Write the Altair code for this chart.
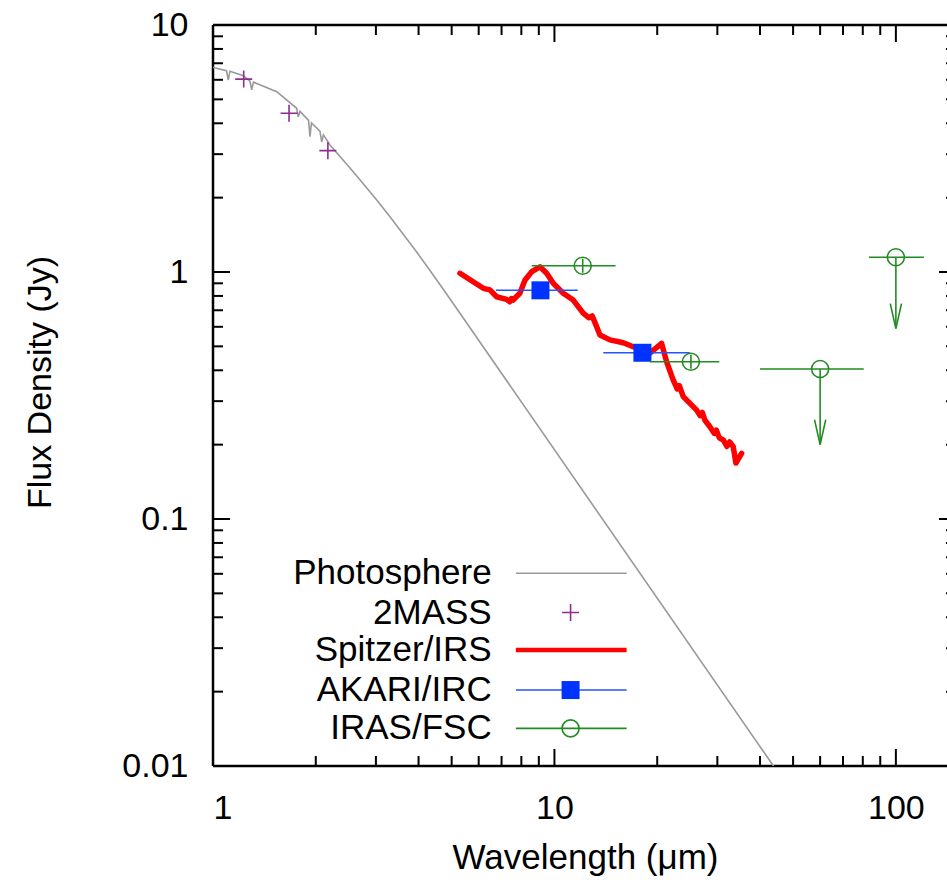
import altair as alt
import pandas as pd

# ---------------------------------------------------------------- data
# Photospheric model (wavelength in micron, flux density in Jy)
phot_wl = [1.0, 1.095, 1.109, 1.121, 1.227, 1.283, 1.298, 1.314, 1.537, 1.758,
           1.777, 1.798, 1.905, 1.923, 1.943, 2.057, 2.081, 2.106, 2.201, 2.519,
           2.755, 3.016, 3.299, 3.607, 3.950, 4.320, 4.725, 5.172, 43.25, 48.9]
phot_flux = [6.73, 6.53, 5.99, 6.50, 6.23, 5.92, 5.46, 5.87, 5.37, 4.60,
             4.25, 4.47, 4.11, 3.53, 4.01, 3.72, 3.36, 3.59, 3.27, 2.636,
             2.278, 1.956, 1.673, 1.423, 1.204, 1.014, 0.851, 0.7115, 0.01026, 0.00802]

# 2MASS J, H, Ks photometry
tmass_wl = [1.23, 1.67, 2.17]
tmass_flux = [6.04, 4.39, 3.10]

# Spitzer/IRS spectrum
irs_wl = [5.29, 5.78, 6.19, 6.47, 6.77, 7.24, 7.40, 7.48, 7.57, 7.92,
          8.20, 8.58, 9.07, 9.49, 9.92, 10.61, 11.35, 12.14, 12.6, 12.9,
          13.29, 13.59, 14.54, 15.91, 17.01, 19.04, 20.60, 21.31, 22.28, 22.9,
          23.2, 23.84, 26.09, 26.7, 27.1, 27.6, 28.53, 29.4, 29.8, 30.4,
          31.22, 32.0, 32.6, 33.39, 34.0, 35.34]
irs_flux = [0.988, 0.913, 0.859, 0.846, 0.794, 0.775, 0.758, 0.781, 0.770, 0.820,
            0.928, 1.003, 1.05, 0.988, 0.900, 0.820, 0.770, 0.681, 0.653, 0.664,
            0.601, 0.556, 0.531, 0.517, 0.498, 0.469, 0.514, 0.433, 0.365, 0.336,
            0.347, 0.313, 0.276, 0.262, 0.270, 0.251, 0.2364, 0.222, 0.229, 0.213,
            0.2089, 0.197, 0.205, 0.1963, 0.1685, 0.1845]

# AKARI/IRC S9W and L18W
akari_wl = [9.1, 18.1]
akari_flux = [0.843, 0.471]
akari_band_lo = [6.74, 13.9]
akari_band_hi = [11.7, 24.9]

# IRAS/FSC 12, 25, 60, 100 micron
iras_wl = [12.1, 25.1, 60.0, 100.0]
iras_flux = [1.06, 0.433, 0.405, 1.147]
iras_band_lo = [8.58, 19.0, 40.0, 83.4]
iras_band_hi = [15.1, 30.4, 80.5, 120.8]
iras_upper_limit = [False, False, True, True]
iras_err_lo = [0.993, 0.406, None, None]
iras_err_hi = [1.131, 0.462, None, None]
iras_arrow_tip = [None, None, 0.20, 0.59]

legend_labels = ["Photosphere", "2MASS", "Spitzer/IRS", "AKARI/IRC", "IRAS/FSC"]

# axis ticks
x_major = [1, 10, 100]
x_minor = [2, 3, 4, 5, 6, 7, 8, 9, 20, 30, 40, 50, 60, 70, 80, 90]
y_major = [0.01, 0.1, 1, 10]
y_minor = [0.02, 0.03, 0.04, 0.05, 0.06, 0.07, 0.08, 0.09,
           0.2, 0.3, 0.4, 0.5, 0.6, 0.7, 0.8, 0.9,
           2, 3, 4, 5, 6, 7, 8, 9]

# ---------------------------------------------------------------- layout
FONT = "Liberation Sans"
FS = 34
FS_WIDE = 35
X_MIN, X_MAX = 1, 150
Y_MIN, Y_MAX = 0.01, 10
X_RANGE = 743                 # pixels spanned by the x domain
PLOT_W, PLOT_H = 734, 741     # visible plot area (the right frame lies just outside)
X_DECADE = X_RANGE / 2.176091  # pixels per decade along x
Y_DECADE = PLOT_H / 3.0        # pixels per decade along y
GREEN = "#228b22"
BLUE = "#0033ff"
PURPLE = "#8e2d8e"
MAJOR_LEN, MINOR_LEN = 17, 10   # inward tick lengths in pixels

# legend placement in data coordinates (inside the lower-left corner)
LEG_ROWS = [0.0603, 0.0418, 0.0295, 0.0203, 0.0142]
LEG_TEXT_X = 6.55
LEG_LINE_X = (7.71, 16.27)
LEG_MARK_X = 11.15

xs = alt.Scale(type="log", domain=[X_MIN, X_MAX], range=[0, X_RANGE], nice=False)
ys = alt.Scale(type="log", domain=[Y_MIN, Y_MAX], nice=False)

x_axis = alt.Axis(
    values=x_major, format="~g", title="Wavelength (μm)", domain=False,
    ticks=False, tickSize=0, grid=False, labelPadding=25, labelFontSize=FS,
    labelFlush=True, titleFontSize=FS_WIDE, titleFontWeight="normal",
    titleX=372, titleY=102, titleBaseline="alphabetic",
)
y_axis = alt.Axis(
    values=y_major, format="~g", title="Flux Density (Jy)", domain=False,
    ticks=False, tickSize=0, grid=False, labelPadding=25, labelFontSize=FS,
    labelFlush=False, titleFontSize=FS, titleFontWeight="normal",
    titleX=-163, titleY=357, titleBaseline="alphabetic",
)


def X(field, **kw):
    return alt.X(field, type="quantitative", scale=xs, axis=x_axis, **kw)


def Y(field, **kw):
    return alt.Y(field, type="quantitative", scale=ys, axis=y_axis, **kw)


def XD(value):
    return alt.XDatum(value, scale=xs, axis=x_axis)


# ---------------------------------------------------------------- frame + ticks
# each tick is a two-point path from the frame edge into the plot
tick_id, tick_k, tick_x, tick_y = [], [], [], []


def add_tick(x1, y1, x2, y2):
    i = len(tick_id) // 2
    tick_id.extend([i, i])
    tick_k.extend([0, 1])
    tick_x.extend([x1, x2])
    tick_y.extend([y1, y2])


for v in x_major + x_minor:
    f = 10 ** ((MAJOR_LEN if v in x_major else MINOR_LEN) / Y_DECADE)
    add_tick(v, Y_MIN, v, Y_MIN * f)      # bottom, pointing up
    add_tick(v, Y_MAX, v, Y_MAX / f)      # top, pointing down
for v in y_major + y_minor:
    f = 10 ** ((MAJOR_LEN if v in y_major else MINOR_LEN) / X_DECADE)
    add_tick(X_MIN, v, X_MIN * f, v)      # left, pointing right
    add_tick(X_MAX, v, X_MAX / f, v)      # right, pointing left

tick_df = pd.DataFrame({"id": tick_id, "k": tick_k, "x": tick_x, "y": tick_y})
ticks = alt.Chart(tick_df).mark_line(
    color="black", strokeWidth=2, strokeCap="butt"
).encode(
    x=X("x"), y=Y("y"), detail="id:N", order="k:Q",
)

frame_df = pd.DataFrame({
    "x1": [X_MIN, X_MIN, X_MIN],
    "x2": [X_MAX, X_MAX, X_MIN],
    "y1": [Y_MIN, Y_MAX, Y_MIN],
    "y2": [Y_MIN, Y_MAX, Y_MAX],
})
frame = alt.Chart(frame_df).mark_rule(color="black", strokeWidth=2.5).encode(
    x=X("x1"), x2="x2", y=Y("y1"), y2="y2",
)

# ---------------------------------------------------------------- series
phot_df = pd.DataFrame({"wl": phot_wl, "flux": phot_flux})
tmass_df = pd.DataFrame({"wl": tmass_wl, "flux": tmass_flux})
irs_df = pd.DataFrame({"wl": irs_wl, "flux": irs_flux})
akari_df = pd.DataFrame({"wl": akari_wl, "flux": akari_flux,
                         "lo": akari_band_lo, "hi": akari_band_hi})
iras_df = pd.DataFrame({"wl": iras_wl, "flux": iras_flux,
                        "lo": iras_band_lo, "hi": iras_band_hi,
                        "ul": iras_upper_limit, "elo": iras_err_lo,
                        "ehi": iras_err_hi, "tip": iras_arrow_tip})
iras_det = iras_df[~iras_df["ul"]]
iras_ul = iras_df[iras_df["ul"]]

CROSS = "M-1,0L1,0M0,-1L0,1"
ARROW_HEAD = "M-0.45,-2L0,0L0.45,-2"

photosphere = alt.Chart(phot_df).mark_line(
    color="#999999", strokeWidth=1.6, clip=True
).encode(x=X("wl"), y=Y("flux"))

tmass = alt.Chart(tmass_df).mark_point(
    shape=CROSS, size=289, filled=False, strokeWidth=1.6, color=PURPLE,
    opacity=1, clip=True
).encode(x=X("wl"), y=Y("flux"))

irs = alt.Chart(irs_df).mark_line(
    color="#ff0000", strokeWidth=5.5, strokeJoin="round", strokeCap="round",
    clip=True
).encode(x=X("wl"), y=Y("flux"))

akari_bars = alt.Chart(akari_df).mark_rule(
    color="#2255ff", strokeWidth=1.6, clip=True
).encode(x=X("lo"), x2="hi", y=Y("flux"))
akari_pts = alt.Chart(akari_df).mark_point(
    shape="square", size=324, filled=True, color=BLUE, opacity=1, clip=True
).encode(x=X("wl"), y=Y("flux"))

iras_bars = alt.Chart(iras_df).mark_rule(
    color=GREEN, strokeWidth=1.6, clip=True
).encode(x=X("lo"), x2="hi", y=Y("flux"))
iras_err = alt.Chart(iras_det).mark_rule(
    color=GREEN, strokeWidth=1.6, clip=True
).encode(x=X("wl"), y=Y("elo"), y2="ehi")
iras_shaft = alt.Chart(iras_ul).mark_rule(
    color=GREEN, strokeWidth=1.6, clip=True
).encode(x=X("wl"), y=Y("flux"), y2="tip")
iras_head = alt.Chart(iras_ul).mark_point(
    shape=ARROW_HEAD, size=625, filled=False, strokeWidth=1.6, color=GREEN,
    opacity=1, clip=True
).encode(x=X("wl"), y=Y("tip"))
iras_pts = alt.Chart(iras_df).mark_point(
    shape="circle", size=289, filled=False, strokeWidth=1.6, color=GREEN,
    opacity=1, clip=True
).encode(x=X("wl"), y=Y("flux"))

# ---------------------------------------------------------------- legend
leg_df = pd.DataFrame({"label": legend_labels, "y": LEG_ROWS})
leg_text = alt.Chart(leg_df).mark_text(
    align="right", baseline="middle", fontSize=FS_WIDE, font=FONT, color="black"
).encode(x=XD(LEG_TEXT_X), y=Y("y"), text="label:N")

leg_lines_df = pd.DataFrame({
    "y": [LEG_ROWS[0], LEG_ROWS[2], LEG_ROWS[3], LEG_ROWS[4]],
    "x1": [LEG_LINE_X[0]] * 4,
    "x2": [LEG_LINE_X[1]] * 4,
    "c": ["#999999", "#ff0000", "#2255ff", GREEN],
    "w": [1.6, 4.5, 1.6, 1.6],
})
leg_lines = alt.Chart(leg_lines_df).mark_rule().encode(
    x=X("x1"), x2="x2", y=Y("y"),
    color=alt.Color("c:N", scale=None, legend=None),
    strokeWidth=alt.StrokeWidth("w:Q", scale=None, legend=None),
)
leg_cross = alt.Chart(pd.DataFrame({"x": [LEG_MARK_X], "y": [LEG_ROWS[1]]})).mark_point(
    shape=CROSS, size=289, filled=False, strokeWidth=1.6, color=PURPLE, opacity=1
).encode(x=X("x"), y=Y("y"))
leg_square = alt.Chart(pd.DataFrame({"x": [LEG_MARK_X], "y": [LEG_ROWS[3]]})).mark_point(
    shape="square", size=324, filled=True, color=BLUE, opacity=1
).encode(x=X("x"), y=Y("y"))
leg_circle = alt.Chart(pd.DataFrame({"x": [LEG_MARK_X], "y": [LEG_ROWS[4]]})).mark_point(
    shape="circle", size=289, filled=False, strokeWidth=1.6, color=GREEN, opacity=1
).encode(x=X("x"), y=Y("y"))

chart = alt.layer(
    frame, ticks,
    photosphere, tmass, irs, akari_bars, akari_pts,
    iras_bars, iras_err, iras_shaft, iras_head, iras_pts,
    leg_lines, leg_cross, leg_square, leg_circle, leg_text,
).properties(
    width=PLOT_W,
    height=PLOT_H,
    autosize=alt.AutoSizeParams(type="none"),
    padding={"left": 213, "top": 25, "right": 0, "bottom": 114},
).configure(
    font=FONT,
).configure_axis(
    labelFont=FONT, titleFont=FONT, labelColor="black", titleColor="black",
).configure_view(
    strokeWidth=0,
)

chart.save("out.html", embed_options={"renderer": "svg", "actions": False})
